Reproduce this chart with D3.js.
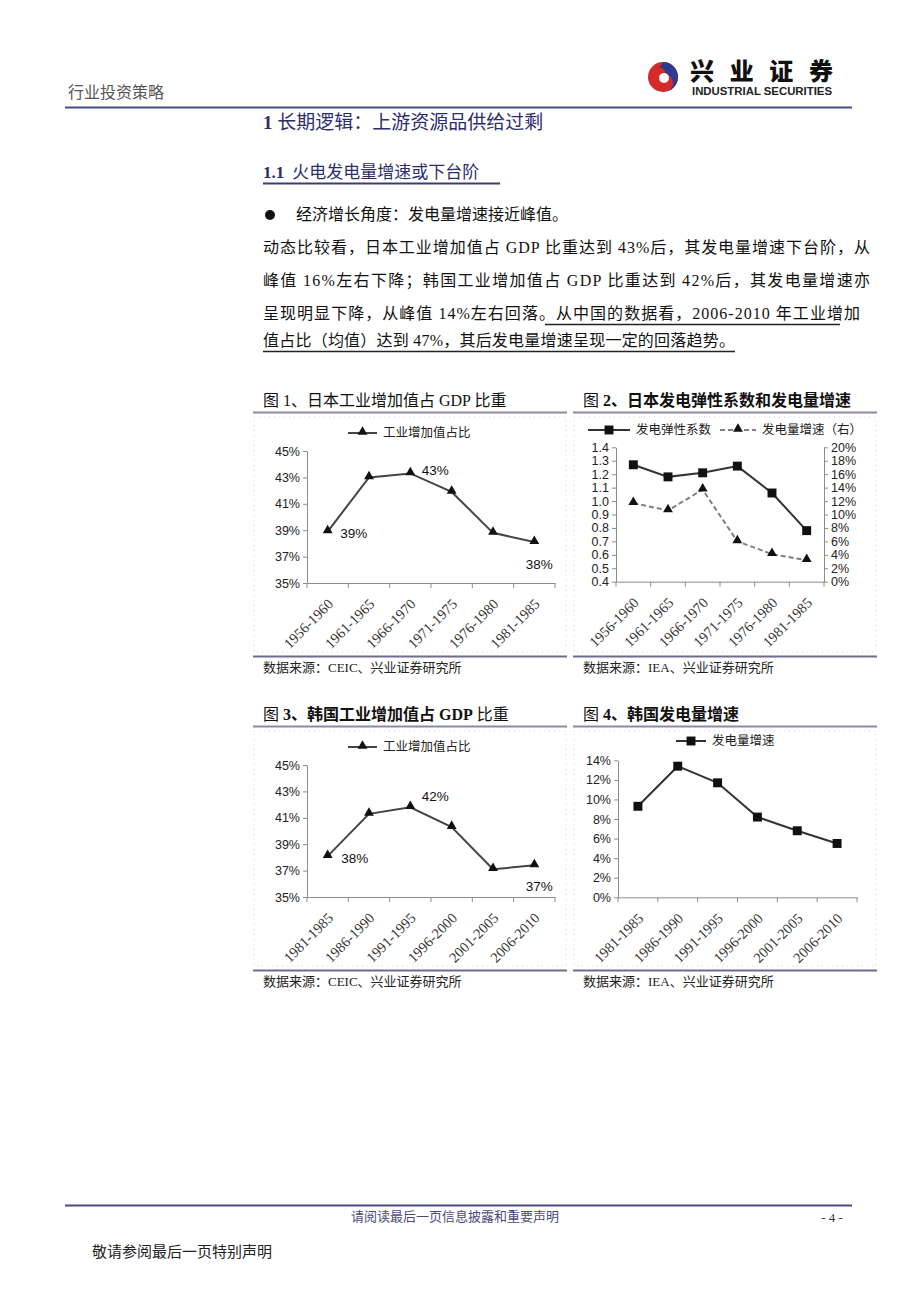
<!DOCTYPE html>
<html><head><meta charset="utf-8">
<script src="https://cdn.jsdelivr.net/npm/d3@7"></script>
<style>body{margin:0;background:#fff}svg{display:block}</style>
</head><body><svg id="c" width="920" height="1301"></svg>
<script>
// ---------------- data ----------------
const jpPeriods = ["1956-1960","1961-1965","1966-1970","1971-1975","1976-1980","1981-1985"];
const jpIndustryShare = [0.389,0.430,0.433,0.419,0.388,0.381];
const jpElasticity = [1.27,1.18,1.21,1.26,1.06,0.78];
const jpPowerGrowth = [0.117,0.106,0.137,0.060,0.041,0.032];
const krPeriods = ["1981-1985","1986-1990","1991-1995","1996-2000","2001-2005","2006-2010"];
const krIndustryShare = [0.381,0.413,0.418,0.403,0.371,0.374];
const krPowerGrowth = [0.093,0.134,0.117,0.082,0.068,0.055];
const shareTicks = [0.35,0.37,0.39,0.41,0.43,0.45];
const elasticityTicks = [0.4,0.5,0.6,0.7,0.8,0.9,1.0,1.1,1.2,1.3,1.4];
const jpGrowthTicks = [0,0.02,0.04,0.06,0.08,0.10,0.12,0.14,0.16,0.18,0.20];
const krGrowthTicks = [0,0.02,0.04,0.06,0.08,0.10,0.12,0.14];
const labelledIdx = [0,2,5];

const svg = d3.select("#c");
svg.append("rect").attr("width",920).attr("height",1301).attr("fill","#fff");
const SERIF = "'Liberation Serif','Noto Sans CJK SC',serif";
const SANS = "'Liberation Sans','Noto Sans CJK SC',sans-serif";
const NAVY = "#2d2d6e";

// ---------------- page header ----------------
svg.append("text").attr("x",68).attr("y",98).attr("font-family",SERIF).attr("font-size",16).attr("fill","#555").text("行业投资策略");
// logo
const logo = svg.append("g").attr("transform","translate(663,77)");
logo.append("circle").attr("r",15).attr("fill","#d42a2a");
logo.append("path").attr("d","M0,-15 A15,15 0 0,1 0,15 A9,9 0 0,0 2,-3 A5,5 0 0,0 -4,-9 Z").attr("fill","#2e3b8f");
logo.append("circle").attr("cx",1).attr("cy",1).attr("r",5).attr("fill","#fff");
svg.append("text").attr("x",690).attr("y",80).attr("font-family","'Noto Sans CJK SC'").attr("font-weight",900)
  .attr("font-size",24).attr("textLength",143).attr("lengthAdjust","spacing").attr("fill","#111").text("兴业证券");
svg.append("text").attr("x",692).attr("y",95).attr("font-family","'Liberation Sans Narrow','Liberation Sans',sans-serif").attr("font-weight",700)
  .attr("font-size",11).attr("textLength",140).attr("lengthAdjust","spacingAndGlyphs").attr("fill","#222").text("INDUSTRIAL SECURITIES");
svg.append("line").attr("x1",65).attr("x2",852).attr("y1",107.5).attr("y2",107.5).attr("stroke","#4a4a86").attr("stroke-width",2);

// section titles
const t1 = svg.append("text").attr("x",263).attr("y",129).attr("font-family",SERIF).attr("font-size",19).attr("fill",NAVY);
t1.append("tspan").attr("font-weight",700).text("1 ");
t1.append("tspan").text("长期逻辑：上游资源品供给过剩");
const t2 = svg.append("text").attr("x",263).attr("y",178).attr("font-family",SERIF).attr("font-size",17).attr("fill",NAVY);
t2.append("tspan").attr("font-weight",700).text("1.1");
t2.append("tspan").attr("dx",8).text("火电发电量增速或下台阶");
svg.append("line").attr("x1",263).attr("x2",500).attr("y1",183.5).attr("y2",183.5).attr("stroke","#3c3c70").attr("stroke-width",2);

// body text
svg.append("circle").attr("cx",270).attr("cy",215).attr("r",5).attr("fill","#111");
svg.append("text").attr("x",296).attr("y",220).attr("font-family",SERIF).attr("font-size",16).attr("fill","#111").text("经济增长角度：发电量增速接近峰值。");
const bodyLines = [
  {y:253, w:607, t:"动态比较看，日本工业增加值占 GDP 比重达到 43%后，其发电量增速下台阶，从"},
  {y:286, w:607, t:"峰值 16%左右下降；韩国工业增加值占 GDP 比重达到 42%后，其发电量增速亦"},
  {y:319, w:597, t:"呈现明显下降，从峰值 14%左右回落。从中国的数据看，2006-2010 年工业增加"},
  {y:346, w:472, t:"值占比（均值）达到 47%，其后发电量增速呈现一定的回落趋势。"}
];
bodyLines.forEach(l=>{
  svg.append("text").attr("x",263).attr("y",l.y).attr("font-family",SERIF).attr("font-size",16).attr("fill","#111")
    .attr("textLength",l.w).attr("lengthAdjust","spacing").text(l.t);
});
svg.append("line").attr("x1",545).attr("x2",840).attr("y1",324.5).attr("y2",324.5).attr("stroke","#222").attr("stroke-width",1.3);
svg.append("line").attr("x1",263).attr("x2",735).attr("y1",351.5).attr("y2",351.5).attr("stroke","#222").attr("stroke-width",1.3);

// ---------------- figure frames ----------------
function figFrame(x0,x1,dy,titleParts,source){
  const t = svg.append("text").attr("x",x0+10).attr("y",406+dy).attr("font-family",SERIF).attr("font-size",16).attr("fill","#111");
  titleParts.forEach(p=>t.append("tspan").attr("font-weight",p[1]?700:400).text(p[0]));
  svg.append("line").attr("x1",x0).attr("x2",x1).attr("y1",412.5+dy).attr("y2",412.5+dy).attr("stroke","#8a8aa8").attr("stroke-width",2);
  svg.append("rect").attr("x",x0+1).attr("y",417+dy).attr("width",x1-x0-2).attr("height",235)
    .attr("fill","none").attr("stroke","#d8d8d8").attr("stroke-dasharray","1,4");
  svg.append("line").attr("x1",x0).attr("x2",x1).attr("y1",656.5+dy).attr("y2",656.5+dy).attr("stroke","#6c6c8e").attr("stroke-width",2);
  svg.append("text").attr("x",x0+10).attr("y",672+dy).attr("font-family",SERIF).attr("font-size",13).attr("fill","#222").text(source);
}
figFrame(253,567,0,[["图 1、日本工业增加值占 GDP 比重",0]],"数据来源：CEIC、兴业证券研究所");
figFrame(573,877,0,[["图 ",0],["2、日本发电弹性系数和发电量增速",1]],"数据来源：IEA、兴业证券研究所");
figFrame(253,567,314,[["图 ",0],["3、韩国工业增加值占 ",1],["GDP",1],[" 比重",0]],"数据来源：CEIC、兴业证券研究所");
figFrame(573,877,314,[["图 ",0],["4、韩国发电量增速",1]],"数据来源：IEA、兴业证券研究所");

// ---------------- chart helper ----------------
const tri = d3.symbol().type(d3.symbolTriangle).size(42);
const sq = d3.symbol().type(d3.symbolSquare).size(80);

function styleAxis(a){
  a.select(".domain").attr("stroke","#8c8c8c");
  a.selectAll(".tick line").attr("stroke","#8c8c8c");
  a.selectAll("text").attr("font-family",SANS).attr("font-size",12.5).attr("fill","#222");
}
function chart(cfg){
  const g = svg.append("g");
  const x = d3.scaleBand().domain(cfg.cats).range([cfg.x0,cfg.x1]);
  const y = d3.scaleLinear().domain(cfg.yDom).range([cfg.yBot,cfg.yTop]);
  const ay = g.append("g").attr("transform",`translate(${cfg.x0},0)`)
    .call(d3.axisLeft(y).tickValues(cfg.yTicks).tickFormat(cfg.yFmt).tickSize(4).tickSizeOuter(0).tickPadding(3));
  styleAxis(ay);
  let yr = null;
  if(cfg.rDom){
    yr = d3.scaleLinear().domain(cfg.rDom).range([cfg.yBot,cfg.yTop]);
    const ar = g.append("g").attr("transform",`translate(${cfg.x1},0)`)
      .call(d3.axisRight(yr).tickValues(cfg.rTicks).tickFormat(cfg.rFmt).tickSize(4).tickSizeOuter(0).tickPadding(3));
    styleAxis(ar);
  }
  // x axis
  const ax = g.append("g").attr("transform",`translate(0,${cfg.yBot})`)
    .call(d3.axisBottom(x).tickSize(0).tickSizeOuter(0).tickPadding(0));
  styleAxis(ax);
  ax.selectAll("text").attr("font-family",SERIF).attr("font-size",14.5).attr("fill","#333")
    .attr("x",-11).attr("y",15).attr("dy","0.35em").attr("transform","rotate(-45)").style("text-anchor","end");
  // boundary ticks
  const bounds = cfg.cats.map(c=>x(c)).concat([cfg.x1]);
  ax.selectAll(".btick").data(bounds).enter().append("line").attr("class","btick")
    .attr("x1",d=>d).attr("x2",d=>d).attr("y1",0).attr("y2",5).attr("stroke","#8c8c8c");
  const cx = c=>x(c)+x.bandwidth()/2;
  cfg.series.forEach(s=>{
    const sc = s.right ? yr : y;
    const line = d3.line().x((d,i)=>cx(cfg.cats[i])).y(d=>sc(d));
    g.append("path").attr("d",line(s.values)).attr("fill","none").attr("stroke",s.color)
      .attr("stroke-width",2).attr("stroke-dasharray",s.dash||null);
    g.selectAll(null).data(s.values).enter().append("path")
      .attr("d",s.marker==="tri"?tri:sq).attr("fill","#111")
      .attr("transform",(d,i)=>`translate(${cx(cfg.cats[i])},${sc(d)+(s.marker==="tri"?-1:0)})`);
    if(s.labels){
      s.labels.idx.forEach((k,j)=>{
        g.append("text").attr("x",cx(cfg.cats[k])+s.labels.off[j][0]).attr("y",sc(s.values[k])+s.labels.off[j][1])
          .attr("text-anchor","middle").attr("dy","0.35em").attr("font-family",SANS).attr("font-size",13.5).attr("fill","#111")
          .text(d3.format(".0%")(s.values[k]));
      });
    }
  });
  // legend
  cfg.legend.forEach(l=>{
    g.append("line").attr("x1",l.x).attr("x2",l.x+l.w).attr("y1",l.y).attr("y2",l.y).attr("stroke",l.color)
      .attr("stroke-width",2).attr("stroke-dasharray",l.dash||null);
    g.append("path").attr("d",l.marker==="tri"?tri:sq).attr("fill","#111")
      .attr("transform",`translate(${l.x+l.w/2},${l.y+(l.marker==="tri"?-1:0)})`);
    g.append("text").attr("x",l.x+l.w+6).attr("y",l.y).attr("dy","0.35em").attr("font-family",SERIF)
      .attr("font-size",12.5).attr("fill","#222").text(l.text);
  });
}
const pct0 = d3.format(".0%");

chart({x0:307,x1:555,yTop:451,yBot:583,cats:jpPeriods,yDom:[0.35,0.45],yTicks:shareTicks,yFmt:pct0,
  series:[{values:jpIndustryShare,color:"#444",marker:"tri",labels:{idx:labelledIdx,off:[[26,2],[25,-3],[5,22]]}}],
  legend:[{x:348,w:29,y:433,color:"#444",marker:"tri",text:"工业增加值占比"}]});

chart({x0:616,x1:824,yTop:447.3,yBot:581.7,cats:jpPeriods,yDom:[0.4,1.4],yTicks:elasticityTicks,yFmt:d3.format(".1f"),
  rDom:[0,0.2],rTicks:jpGrowthTicks,rFmt:pct0,
  series:[{values:jpElasticity,color:"#333",marker:"sq"},
          {values:jpPowerGrowth,color:"#7f7f7f",marker:"tri",dash:"5,3",right:true}],
  legend:[{x:588,w:42,y:430,color:"#333",marker:"sq",text:"发电弹性系数"},
          {x:720,w:36,y:430,color:"#7f7f7f",marker:"tri",dash:"5,3",text:"发电量增速（右）"}]});

chart({x0:307,x1:555,yTop:765,yBot:897,cats:krPeriods,yDom:[0.35,0.45],yTicks:shareTicks,yFmt:pct0,
  series:[{values:krIndustryShare,color:"#444",marker:"tri",labels:{idx:labelledIdx,off:[[27,2],[25,-11],[5,21]]}}],
  legend:[{x:348,w:29,y:747,color:"#444",marker:"tri",text:"工业增加值占比"}]});

chart({x0:618,x1:857,yTop:760.3,yBot:897.3,cats:krPeriods,yDom:[0,0.14],yTicks:krGrowthTicks,yFmt:pct0,
  series:[{values:krPowerGrowth,color:"#333",marker:"sq"}],
  legend:[{x:676,w:30,y:741,color:"#333",marker:"sq",text:"发电量增速"}]});

// ---------------- footer ----------------
svg.append("line").attr("x1",65).attr("x2",852).attr("y1",1205.5).attr("y2",1205.5).attr("stroke","#4a4a86").attr("stroke-width",2);
svg.append("text").attr("x",455).attr("y",1221).attr("text-anchor","middle").attr("font-family",SERIF).attr("font-size",13)
  .attr("fill","#4a4a7a").text("请阅读最后一页信息披露和重要声明");
svg.append("text").attr("x",832).attr("y",1222).attr("text-anchor","middle").attr("font-family",SERIF).attr("font-size",13)
  .attr("fill","#333").text("- 4 -");
svg.append("text").attr("x",92).attr("y",1257).attr("font-family",SERIF).attr("font-size",15).attr("fill","#222").text("敬请参阅最后一页特别声明");
</script></body></html>
